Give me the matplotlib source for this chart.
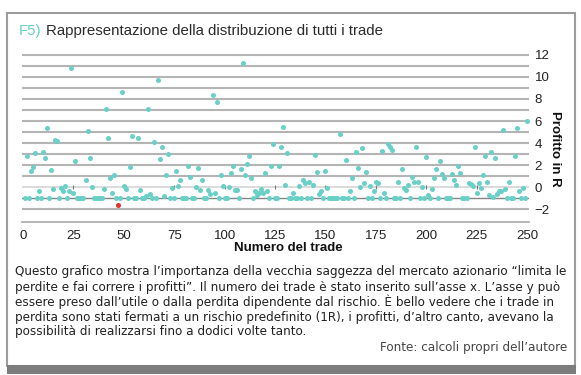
import matplotlib.pyplot as plt
from matplotlib.patches import Rectangle

# profit in R of each trade, trade 1 .. 250
profit = [
    -1, 2.8, -1, 1.5, 1.8, 3.05, -1, -0.35, -1, 3.2,
    2.65, 5.35, -1, 1.55, -0.2, 4.25, 4.2, -1, -0.05, -0.4,
    0.1, -1, -0.35, 10.8, -0.5, 2.4, -1, -1, -1, -1,
    0.6, 5.1, 2.6, 0.0, -1, -1, -1, -1, -1, -0.2,
    7.1, 4.45, 0.85, -0.5, 1.1, -1, -1.65, -1, 8.65, 0.1,
    -0.15, -1, 1.8, 4.65, -1, -1, 4.5, -0.25, -1, -1,
    -0.85, 7.05, -0.65, -1, 4.05, -1, 9.7, 2.55, 3.6, -0.85,
    1.05, 3.0, -1, -0.05, -1, 1.5, 0.05, 0.65, -1, -1,
    -1, 1.95, 0.9, -1, -1, 0.0, 1.75, -0.25, 0.6, -1,
    -1, -0.25, -0.65, 8.35, -0.5, 7.7, -1, 1.05, 0.05, -1,
    -1, 0.0, 1.25, 1.95, -0.25, -0.25, -1, 1.6, 11.25, 1.05,
    2.1, 2.85, 0.85, -1, -0.35, -0.75, -0.5, -0.2, -0.5, 1.3,
    -0.35, -1, 1.95, 3.9, -1, -1, 1.95, 3.6, 5.5, 0.2,
    3.05, -1, -1, -0.55, -1, -1, 0.05, -1, 0.6, 0.35,
    -1, 0.45, -1, 0.2, 2.95, 1.35, -0.6, -0.4, -1, 1.5,
    -0.1, -1, -1, -1, -1, -1, 4.8, -1, -1, 2.45,
    -1, -0.4, 0.8, -1, 3.2, 1.7, 0.0, 3.55, 0.35, 1.4,
    -1, 0.05, -1, -0.35, 0.5, 0.35, -1, 3.25, -0.5, -1,
    3.9, 3.65, 3.35, -1, -1, 0.5, -1, 1.65, -0.05, -0.3,
    0.15, -1, 0.9, 0.45, 3.6, 0.45, -1, 0.0, -1, 2.75,
    -0.75, -1, -0.2, 0.8, 1.65, -1, 2.35, 1.2, 0.8, -1,
    -1, -1, 1.2, 0.65, 0.2, 1.9, 1.3, -1, -1, -1,
    0.35, 0.25, 0.05, 3.65, -0.5, 0.4, -0.05, 1.05, 2.8, 0.5,
    -0.75, 3.15, -0.9, 2.65, -0.65, -0.4, -0.35, 5.2, -0.2, -1,
    0.5, -1, -1, 2.8, 5.4, -0.4, -1, -0.1, -1, 6.0,
]
trade = list(range(1, len(profit) + 1))

x_ticks = [0, 25, 50, 75, 100, 125, 150, 175, 200, 225, 250]
y_ticks = [-2, 0, 2, 4, 6, 8, 10, 12]
grid_levels = list(range(-2, 13))

title_tag = 'F5)'
title = 'Rappresentazione della distribuzione di tutti i trade'
xlabel = 'Numero del trade'
ylabel = 'Profitto in R'
caption = [
    'Questo grafico mostra l\u2019importanza della vecchia saggezza del mercato azionario \u201climita le',
    'perdite e fai correre i profitti\u201d. Il numero dei trade \u00e8 stato inserito sull\u2019asse x. L\u2019asse y pu\u00f2',
    'essere preso dall\u2019utile o dalla perdita dipendente dal rischio. \u00c8 bello vedere che i trade in',
    'perdita sono stati fermati a un rischio predefinito (1R), i profitti, d\u2019altro canto, avevano la',
    'possibilit\u00e0 di realizzarsi fino a dodici volte tanto.',
]
source = 'Fonte: calcoli propri dell\u2019autore'

TEAL = '#68d0c7'
RED = '#e8332c'
SANS = 'Liberation Sans'

W, H = 581, 375
fig = plt.figure(figsize=(W / 100, H / 100), dpi=100)


def fx(px):
    return px / W


def fy(py):
    return 1 - py / H


# outer box and dark bottom band
fig.patches.append(Rectangle((fx(7), fy(366)), fx(575) - fx(7), fy(13) - fy(366),
                             transform=fig.transFigure, fill=False,
                             ec='#9c9c9c', lw=1.5))
fig.patches.append(Rectangle((fx(7), fy(374)), fx(576) - fx(7), fy(365) - fy(374),
                             transform=fig.transFigure, fc='#7d7d7d', ec='none'))

fig.text(fx(19), fy(31), title_tag, color=TEAL, fontsize=10.8,
         family=SANS, va='center')
fig.text(fx(46), fy(31), title, color='#2b2b2b', fontsize=10.8,
         family=SANS, va='center')

ax = fig.add_axes([fx(22), fy(222), fx(529) - fx(22), fy(54) - fy(222)])
ax.set_xlim(-0.5, 251)
ax.set_ylim(-3.18, 12.09)

for level in grid_levels:
    if level == 0:
        ax.axhline(level, color='#dadada', lw=1.4, zorder=1)
    elif level == -1:
        ax.axhline(level, color='#858585', lw=1.0, zorder=1)
    else:
        ax.axhline(level, color='#b4b4b4', lw=1.5, zorder=1)
ax.vlines(x_ticks[1:-1], -0.2, 0.2, color='#777777', lw=0.8, zorder=2)

normal = [(t, p) for t, p in zip(trade, profit) if p >= -1]
big_loss = [(t, p) for t, p in zip(trade, profit) if p < -1]
ax.plot([t for t, p in normal], [p for t, p in normal], 'o', color=TEAL,
        ms=3.6, mew=0, zorder=3)
ax.plot([t for t, p in big_loss], [p for t, p in big_loss], 'o', color=RED,
        ms=3.6, mew=0, zorder=3)

for side in ['top', 'left', 'right']:
    ax.spines[side].set_visible(False)
ax.spines['bottom'].set_color('#a8a8a8')
ax.spines['bottom'].set_linewidth(1.2)

ax.set_xticks(x_ticks)
ax.yaxis.tick_right()
ax.set_yticks(y_ticks)
ax.tick_params(length=0, labelsize=9.5, colors='#222222')
ax.tick_params(axis='x', pad=6)
ax.tick_params(axis='y', pad=4)
for lab in ax.get_xticklabels() + ax.get_yticklabels():
    lab.set_family(SANS)

ax.set_xlabel(xlabel, fontsize=9.5, fontweight='bold', family=SANS, color='#111111')
ax.xaxis.set_label_coords((288 - 22) / 507, -0.12)
ax.yaxis.set_label_position('right')
ax.set_ylabel(ylabel, fontsize=9.5, fontweight='bold', family=SANS,
              color='#111111', rotation=270, va='center')
ax.yaxis.set_label_coords((555 - 22) / 507, 0.435)

line_y = [272, 287, 302, 317, 332]
for text, py in zip(caption, line_y):
    fig.text(fx(15), fy(py), text, fontsize=8.65, family='DejaVu Sans',
             color='#222222', va='center')
fig.text(fx(567), fy(348), source, fontsize=8.65, family='DejaVu Sans',
         color='#444444', va='center', ha='right')

fig.savefig('out.png', dpi=100)
